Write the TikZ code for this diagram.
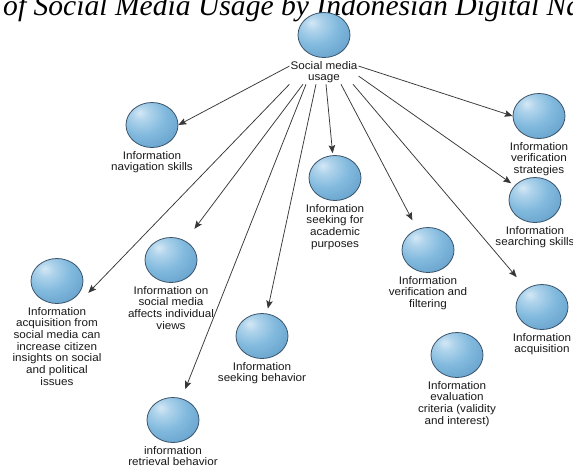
\documentclass[tikz,border=0pt]{standalone}
\usepackage{fontspec}
\newfontfamily\labelfont[FakeStretch=1.06]{Liberation Sans}
\newfontfamily\titlefont{Liberation Serif}
\usetikzlibrary{positioning,shapes.geometric,arrows.meta}

\definecolor{bubHi}{RGB}{212,232,246}
\definecolor{bubMid}{RGB}{130,186,222}
\definecolor{bubDk}{RGB}{98,156,200}
\definecolor{bubEdge}{RGB}{80,130,174}
\definecolor{bubLine}{RGB}{58,84,108}
\definecolor{lineGrey}{RGB}{55,55,55}
\definecolor{txtGrey}{RGB}{25,25,25}

\pgfdeclareradialshading{glossy}{\pgfpoint{-12bp}{14bp}}{%
color(0bp)=(bubHi); color(8bp)=(bubHi!55!bubMid); color(22bp)=(bubMid);
color(42bp)=(bubDk); color(62bp)=(bubEdge); color(100bp)=(bubEdge)}

\begin{document}
\begin{tikzpicture}[x=1pt,y=-1pt,
bubble/.style={
ellipse,
draw=bubLine,
line width=0.8pt,
shading=glossy,
minimum width=52pt,
minimum height=45pt,
inner sep=0pt
},
lbl/.style={
align=center,
text=txtGrey,
inner sep=1pt,
font=\labelfont\fontsize{11}{11.7}\selectfont
},
link/.style={->,draw=lineGrey,line width=0.75pt},
>={Stealth[length=8pt,width=6.5pt,inset=1.5pt]},
]

\fill[white] (0,0) rectangle (573,466);
\useasboundingbox (0,0) rectangle (573,466);

\node (title) [anchor=base west,inner sep=0pt,font=\titlefont\itshape] at (3,15) {\resizebox{578pt}{!}{of Social Media Usage by Indonesian Digital Na}};

% the balls
\node (usage) [bubble] at (324,35) {};
\node (nav) [bubble] at (152,125) {};
\node (strat) [bubble] at (539,116) {};
\node (search) [bubble] at (535,200) {};
\node (acad) [bubble] at (335,178) {};
\node (social) [bubble] at (171,260) {};
\node (verif) [bubble] at (428,250) {};
\node (acqleft) [bubble] at (57,281) {};
\node (acqright) [bubble] at (542,307) {};
\node (seek) [bubble] at (262,336) {};
\node (evalc) [bubble] at (457,355) {};
\node (retr) [bubble] at (173,420) {};

% their texts
\node (usagelbl) [lbl,below=2pt of usage] {Social media\\usage};
\node (navlbl) [lbl,below=2pt of nav] {Information\\navigation skills};
\node (stratlbl) [lbl,below=2pt of strat] {Information\\verification\\strategies};
\node (searchlbl) [lbl,below=2pt of search] {Information\\searching skills};
\node (acadlbl) [lbl,below=2pt of acad] {Information\\seeking for\\academic\\purposes};
\node (sociallbl) [lbl,below=2pt of social] {Information on\\social media\\affects individual\\views};
\node (veriflbl) [lbl,below=2pt of verif] {Information\\verification and\\filtering};
\node (acqleftlbl) [lbl,below=2pt of acqleft] {Information\\acquisition from\\social media can\\increase citizen\\insights on social\\and political\\issues};
\node (acqrightlbl) [lbl,below=2pt of acqright] {Information\\acquisition};
\node (seeklbl) [lbl,below=2pt of seek] {Information\\seeking behavior};
\node (evalclbl) [lbl,below=2pt of evalc] {Information\\evaluation\\criteria (validity\\and interest)};
\node (retrlbl) [lbl,below=2pt of retr] {information\\retrieval behavior};

\draw[link] ([yshift=6pt]usagelbl.west) -- (nav.east);
\draw[link] ([yshift=6pt]usagelbl.east) -- (strat.west);
\draw[link,shorten >=4pt] ([yshift=-4pt]usagelbl.east) -- (search);
\draw[link] (usagelbl.south west) -- ([xshift=7pt,yshift=-3pt]acqleft.-20);
\draw[link,shorten >=15pt] ([xshift=-21pt]usagelbl.south) -- (social);
\draw[link,shorten >=10pt] ([xshift=-18pt]usagelbl.south) -- (retr);
\draw[link,shorten >=5pt] ([xshift=-8pt]usagelbl.south) -- (seek);
\draw[link,shorten >=2pt] ([xshift=2pt]usagelbl.south) -- (acad);
\draw[link,shorten >=10pt] ([xshift=17pt]usagelbl.south) -- (verif);
\draw[link,shorten >=15pt] ([xshift=29pt]usagelbl.south) -- (acqright);
\end{tikzpicture}
\end{document}
